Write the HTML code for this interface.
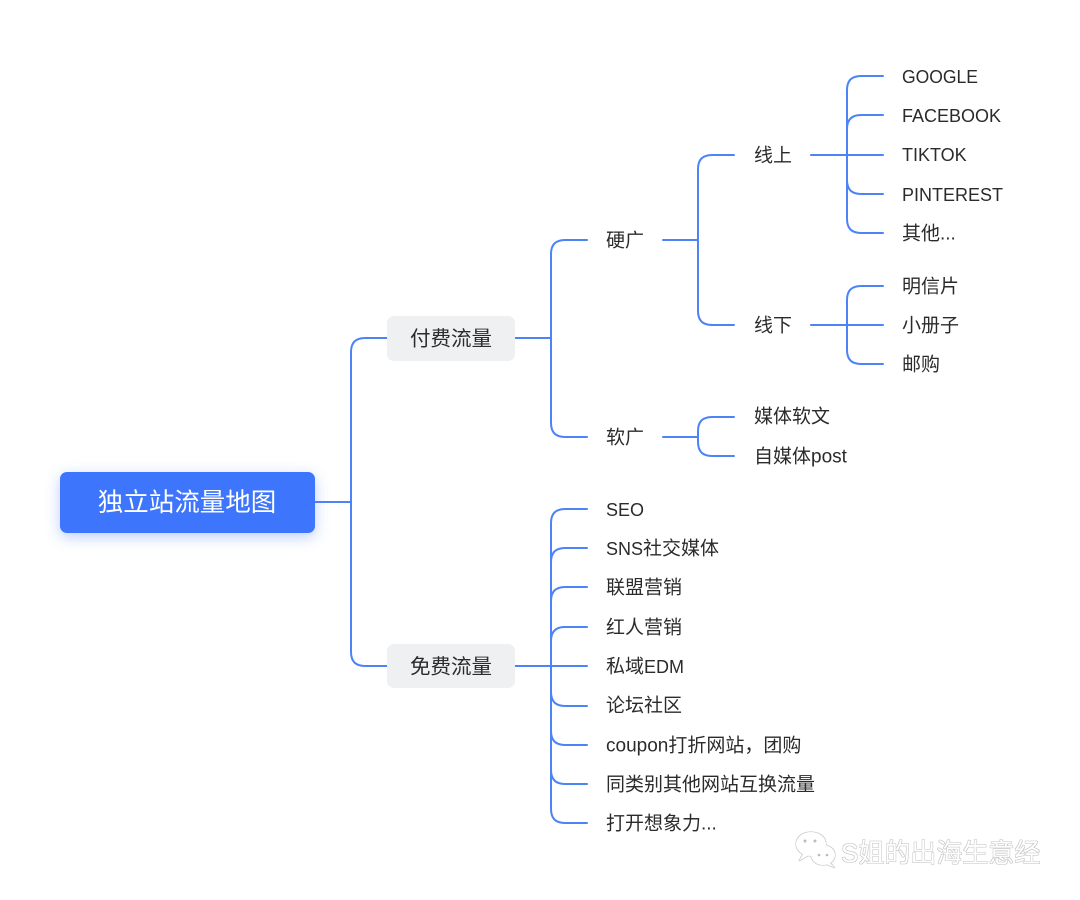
<!DOCTYPE html>
<html><head><meta charset="utf-8"><style>
html,body{margin:0;padding:0;background:#fff;}
svg{display:block;}
text{font-family:"Liberation Sans","Noto Sans CJK SC",sans-serif;}
</style></head><body>
<svg width="1080" height="900" viewBox="0 0 1080 900" xmlns="http://www.w3.org/2000/svg">
<defs>
<filter id="glow" x="-30%" y="-60%" width="160%" height="220%">
<feGaussianBlur in="SourceAlpha" stdDeviation="7"/>
<feOffset dy="4" result="b"/>
<feFlood flood-color="#3c74fc" flood-opacity="0.35"/>
<feComposite in2="b" operator="in"/>
<feMerge><feMergeNode/><feMergeNode in="SourceGraphic"/></feMerge>
</filter>
<filter id="wm" x="-10%" y="-30%" width="120%" height="160%">
<feMorphology in="SourceAlpha" operator="dilate" radius="0.7" result="d"/>
<feFlood flood-color="#a8a8a8" flood-opacity="0.75"/>
<feComposite in2="d" operator="in" result="o"/>
<feMerge><feMergeNode in="o"/><feMergeNode in="SourceGraphic"/></feMerge>
</filter>
</defs>
<g fill="none" stroke="#4c84f8" stroke-width="2" stroke-linecap="round">
<path d="M315,502 L351,502"/>
<path d="M351,502 L351,352 Q351,338 365,338 L387,338"/>
<path d="M351,502 L351,652 Q351,666 365,666 L387,666"/>
<path d="M515,338 L551,338"/>
<path d="M551,338 L551,254 Q551,240 565,240 L587,240"/>
<path d="M551,338 L551,423 Q551,437 565,437 L587,437"/>
<path d="M515,666 L587,666"/>
<path d="M551,666 L551,523 Q551,509 565,509 L587,509"/>
<path d="M551,666 L551,562 Q551,548 565,548 L587,548"/>
<path d="M551,666 L551,601 Q551,587 565,587 L587,587"/>
<path d="M551,666 L551,641 Q551,627 565,627 L587,627"/>
<path d="M551,666 L551,692 Q551,706 565,706 L587,706"/>
<path d="M551,666 L551,731 Q551,745 565,745 L587,745"/>
<path d="M551,666 L551,770 Q551,784 565,784 L587,784"/>
<path d="M551,666 L551,809 Q551,823 565,823 L587,823"/>
<path d="M663,240 L698,240"/>
<path d="M698,240 L698,169 Q698,155 712,155 L734,155"/>
<path d="M698,240 L698,311 Q698,325 712,325 L734,325"/>
<path d="M663,437 L698,437"/>
<path d="M698,437 L698,431 Q698,417 712,417 L734,417"/>
<path d="M698,437 L698,442 Q698,456 712,456 L734,456"/>
<path d="M811,155 L883,155"/>
<path d="M847,155 L847,90 Q847,76 861,76 L883,76"/>
<path d="M847,155 L847,129 Q847,115 861,115 L883,115"/>
<path d="M847,155 L847,180 Q847,194 861,194 L883,194"/>
<path d="M847,155 L847,219 Q847,233 861,233 L883,233"/>
<path d="M811,325 L883,325"/>
<path d="M847,325 L847,300 Q847,286 861,286 L883,286"/>
<path d="M847,325 L847,350 Q847,364 861,364 L883,364"/>
</g>

<rect x="60" y="472" width="255" height="61" rx="7" fill="#3c74fc" filter="url(#glow)"/>
<text x="187" y="503" fill="#fff" font-size="25.5" text-anchor="middle" dominant-baseline="central">独立站流量地图</text>

<rect x="387" y="316" width="128" height="45" rx="7" fill="#eff0f2"/>
<text x="451" y="339" fill="#2b2b2b" font-size="20.5" text-anchor="middle" dominant-baseline="central">付费流量</text>
<rect x="387" y="644" width="128" height="44" rx="7" fill="#eff0f2"/>
<text x="451" y="667" fill="#2b2b2b" font-size="20.5" text-anchor="middle" dominant-baseline="central">免费流量</text>

<g fill="#2b2b2b" font-size="19" dominant-baseline="central">
<text x="606" y="241">硬广</text>
<text x="606" y="438">软广</text>
<text x="754" y="156">线上</text>
<text x="754" y="326">线下</text>
<text x="754" y="417">媒体软文</text>
<text x="754" y="457">自媒体post</text>
<text x="902" y="234">其他...</text>
<text x="902" y="287">明信片</text>
<text x="902" y="326">小册子</text>
<text x="902" y="365">邮购</text>
<text x="606" y="549"><tspan font-size="18">SNS</tspan>社交媒体</text>
<text x="606" y="588">联盟营销</text>
<text x="606" y="628">红人营销</text>
<text x="606" y="667">私域<tspan font-size="18">EDM</tspan></text>
<text x="606" y="706">论坛社区</text>
<text x="606" y="746">coupon打折网站，团购</text>
<text x="606" y="785">同类别其他网站互换流量</text>
<text x="606" y="824">打开想象力...</text>
</g>
<g fill="#2b2b2b" font-size="18" dominant-baseline="central">
<text x="902" y="77" textLength="76" lengthAdjust="spacingAndGlyphs">GOOGLE</text>
<text x="902" y="116">FACEBOOK</text>
<text x="902" y="155">TIKTOK</text>
<text x="902" y="195">PINTEREST</text>
<text x="606" y="510">SEO</text>
</g>

<g filter="url(#wm)">
<g fill="#fff" stroke="none">
<ellipse cx="811" cy="844" rx="15" ry="12"/>
<path d="M803,854 L799,861 L809,855 Z"/>
<ellipse cx="823" cy="855" rx="12" ry="10"/>
<path d="M830,863 L835,868 L826,864 Z"/>
</g>
<text x="841" y="853" fill="#fff" font-size="26" dominant-baseline="central">S姐的出海生意经</text>
</g>
<g fill="#bbb">
<circle cx="805" cy="841" r="1.5"/><circle cx="815" cy="841" r="1.5"/>
<circle cx="819" cy="855" r="1.3"/><circle cx="827" cy="855" r="1.3"/>
</g>
</svg>
</body></html>
